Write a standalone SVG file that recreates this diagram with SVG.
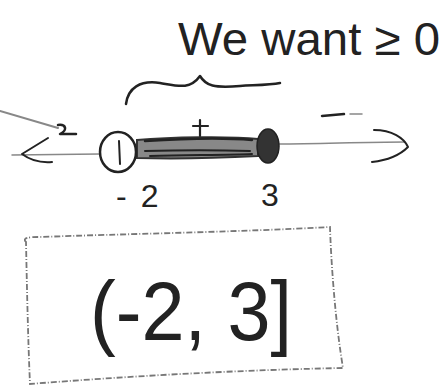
<svg xmlns="http://www.w3.org/2000/svg" width="445" height="386" viewBox="0 0 445 386">
<style>
.ink{fill:none;stroke:#222;stroke-linecap:round;stroke-linejoin:round}
.grey{fill:none;stroke:#888;stroke-linecap:round}
.hand{font-family:"Liberation Sans",Arial,sans-serif;fill:#222}
</style>
<rect width="445" height="386" fill="#fff"/>
<g id="title">
<text class="hand" x="178" y="55" font-size="46" textLength="262" lengthAdjust="spacingAndGlyphs">We want ≥ 0</text>
</g>
<g id="brace">
<path class="ink" stroke-width="2.5" d="M126,104 C128,88 140,80 160,83 C178,86 190,90 200,76 C206,86 214,88 240,86 C258,85 270,85 280,83"/>
</g>
<g id="connectors">
<path class="grey" stroke-width="1.5" d="M12,155 L100,154"/>
<path class="grey" stroke-width="1.5" d="M278,144 C320,144 360,142 405,142"/>
<path class="ink" stroke-width="2" d="M48,138 L22,154 C30,160 40,163 52,162"/>
<path class="ink" stroke-width="2" d="M374,130 C392,130 404,138 408,147 C400,155 390,160 372,162"/>
<path class="grey" stroke-width="2" d="M0,111 L58,128"/>
<path class="ink" stroke-width="2.5" d="M58,125 C66,124 68,130 60,134 L76,134"/>
</g>
<g id="segment">
<path d="M137,140 C170,137 230,136 258,139 L258,156 C220,158 170,159 137,158 Z" fill="#888" stroke="#333" stroke-width="2"/>
<path class="ink" stroke-width="2.5" d="M145,141 C190,138 230,138 252,140"/>
<path class="ink" stroke-width="2" d="M145,151 C180,150 220,150 250,151"/>
<path class="ink" stroke-width="2" d="M150,156 C190,155 230,155 252,154"/>
</g>
<g id="plus">
<path class="ink" stroke-width="2.2" d="M200,120 L200,136 M193,126 L208,126"/>
</g>
<g id="open-point">
<ellipse cx="118" cy="152" rx="18" ry="20" fill="#fff" stroke="#222" stroke-width="2.5"/>
<path class="ink" stroke-width="2" d="M119,141 L120,164"/>
<text class="hand" x="116" y="207" font-size="32" letter-spacing="14">-2</text>
</g>
<g id="closed-point">
<ellipse cx="268" cy="146" rx="11" ry="17" fill="#333" stroke="#222" stroke-width="1.5"/>
<text class="hand" x="261" y="206" font-size="32">3</text>
</g>
<g id="minus">
<path class="ink" stroke-width="2.5" d="M322,116 L344,114"/>
<path class="grey" stroke-width="1.5" d="M350,114 L362,114"/>
</g>
<g id="answer">
<path fill="none" stroke="#777" stroke-width="1.8" stroke-dasharray="6 2 1 2" d="M26,242 C22,238 28,237 40,237 C120,234 240,232 330,227 C331,260 335,320 343,368 C240,370 130,376 30,384 C28,340 27,290 26,242 Z"/>
<text class="hand" x="90" y="340" font-size="84" textLength="202" lengthAdjust="spacingAndGlyphs">(-2, 3]</text>
</g>
</svg>
